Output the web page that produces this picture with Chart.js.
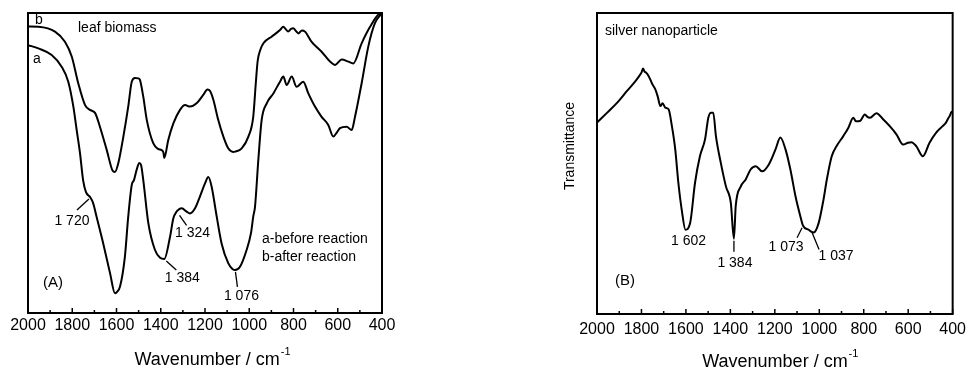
<!DOCTYPE html>
<html>
<head>
<meta charset="utf-8">
<script src="https://cdn.jsdelivr.net/npm/chart.js@4.4.1/dist/chart.umd.min.js"></script>
<style>
  html, body { margin: 0; padding: 0; background: #fff; }
  #wrap { position: relative; width: 972px; height: 370px; overflow: hidden; }
  canvas { position: absolute; top: 0; }
  #cA { left: 0; }
  #cB { left: 486px; }
</style>
</head>
<body>
<div id="wrap">
  <canvas id="cA" width="486" height="370"></canvas>
  <canvas id="cB" width="486" height="370"></canvas>
</div>
<script>
// ---- spectra (wavenumber in cm^-1, transmittance in arbitrary units) ----
// leaf biomass, b: after reaction
const leafAfterWn = [2000,1953,1878,1833,1802,1773,1742,1720,1697,1675,1644,1618,1607,1592,1569,1547,1531,1516,1501,1494,1479,1463,1434,1412,1396,1388,1384,1366,1343,1313,1290,1268,1238,1208,1189,1177,1162,1140,1117,1095,1073,1064,1034,1004,982,970,962,951,936,899,861,846,836,824,811,801,789,778,762,748,718,673,635,612,582,552,530,492,454,409,400];
const leafAfterT  = [95.5,95.4,93.8,90.4,85.4,76.6,69.3,67.7,66.7,62.1,54.3,47.5,47.0,49.9,58.8,68.8,77.1,78.3,78.2,77.7,72.1,64.3,56.6,54.7,54.3,53.5,51.7,57.7,63.2,67.7,69.3,68.8,69.9,72.7,74.5,74.0,71.0,64.3,58.8,54.9,53.7,53.8,54.9,58.8,65.4,77.0,84.0,87.5,89.9,92.1,94.3,95.4,94.7,93.8,94.7,94.9,94.0,93.2,94.2,93.8,90.4,87.1,83.8,82.7,84.5,83.8,83.2,89.9,95.4,99.9,100];

// leaf biomass, a: before reaction
const leafBeforeWn = [2000,1953,1893,1848,1818,1795,1780,1765,1751,1738,1720,1706,1690,1660,1629,1607,1598,1584,1562,1547,1531,1521,1509,1497,1489,1479,1456,1426,1403,1384,1358,1343,1328,1324,1305,1283,1268,1245,1223,1200,1185,1170,1147,1125,1095,1076,1064,1042,1012,992,982,974,959,944,921,891,861,846,831,808,786,756,733,703,673,643,620,603,590,560,537,522,492,462,432,400];
const leafBeforeT  = [89.3,88.2,86.0,82.1,77.1,68.8,61.0,53.3,44.3,40.3,38.7,36.7,32.1,23.2,13.2,6.6,7.0,8.8,18.8,32.1,42.7,44.3,47.7,50.0,49.3,44.3,29.9,21.0,18.4,18.0,25.4,31.6,33.8,34.2,34.9,33.8,33.2,34.9,38.8,43.2,45.3,42.1,32.1,23.2,16.6,14.7,14.3,15.4,21.0,26.7,32.1,35.4,51.0,64.3,69.9,73.2,77.1,78.8,76.0,78.8,75.4,77.1,73.2,68.8,65.4,62.7,58.8,60.3,61.6,62.1,61.0,65.4,76.6,88.8,96.6,100];

// silver nanoparticle
const silverWn = [2000,1954,1909,1865,1827,1808,1800,1793,1786,1781,1768,1752,1738,1727,1715,1705,1693,1678,1663,1648,1634,1619,1602,1581,1559,1537,1514,1499,1487,1477,1465,1443,1420,1398,1384,1376,1353,1331,1309,1286,1257,1227,1197,1175,1152,1130,1107,1085,1073,1048,1037,1025,1003,981,966,944,922,892,869,847,835,817,795,784,772,743,713,683,653,623,601,586,564,534,504,475,445,430,422,412,407,400];
const silverT  = [63.6,66.9,70.2,74.1,77.4,79.3,80.2,81.6,80.5,80.3,79.1,76.5,74.7,72.3,69.1,70.0,68.6,68.0,62.4,54.7,43.6,34.7,28.0,30.2,43.6,52.4,58.0,65.3,66.9,66.9,59.1,50.2,42.4,36.9,25.0,35.8,42.4,44.7,48.0,49.1,47.4,49.7,54.7,58.6,54.7,48.0,39.1,32.4,29.3,28.0,27.4,27.1,30.2,38.0,44.7,52.4,55.8,59.1,61.9,65.2,64.0,64.1,66.3,65.5,65.2,66.7,64.7,62.4,59.7,56.3,56.9,57.1,55.8,52.4,56.9,60.2,62.4,63.6,64.7,66.0,66.9,67.3];

// axis ticks
const tickLabels = [2000,1800,1600,1400,1200,1000,800,600,400];
const minorTicks = [1900,1700,1500,1300,1100,900,700,500];

// marked bands
const peaksA     = [1720, 1384, 1324, 1076];
const peaksAText = ['1 720', '1 384', '1 324', '1 076'];
const peaksB     = [1602, 1384, 1073, 1037];
const peaksBText = ['1 602', '1 384', '1 073', '1 037'];

// ---- drawing helpers ----
const FONT = '"Liberation Sans", Arial, Helvetica, sans-serif';

function pts(wn, t) { return wn.map((w, i) => ({ x: w, y: t[i] })); }
function at(wn, t, w) { return t[wn.indexOf(w)]; }

function label(ctx, s, x, y, size, align) {
  ctx.font = size + 'px ' + FONT;
  ctx.textAlign = align || 'left';
  ctx.textBaseline = 'middle';
  ctx.fillStyle = '#000';
  ctx.fillText(s, x, y);
}
function seg(ctx, x1, y1, x2, y2, w) {
  ctx.lineWidth = w || 1.3;
  ctx.strokeStyle = '#000';
  ctx.beginPath(); ctx.moveTo(x1, y1); ctx.lineTo(x2, y2); ctx.stroke();
}
function xTitle(ctx, cx, baseY) {
  const main = 'Wavenumber / cm', sup = '-1';
  ctx.font = '18px ' + FONT;
  const w1 = ctx.measureText(main).width;
  ctx.font = '11px ' + FONT;
  const w2 = ctx.measureText(sup).width;
  const x0 = cx - (w1 + w2) / 2;
  ctx.fillStyle = '#000';
  ctx.textAlign = 'left';
  ctx.textBaseline = 'alphabetic';
  ctx.font = '18px ' + FONT;
  ctx.fillText(main, x0, baseY);
  ctx.font = '11px ' + FONT;
  ctx.fillText(sup, x0 + w1 + 1, baseY - 10);
}

// frame, inward ticks and in-plot text for one panel
function decorPlugin(draw) {
  return {
    id: 'decor',
    afterDraw(chart) {
      const { ctx, chartArea: a, scales } = chart;
      const sx = scales.x, sy = scales.y;
      ctx.save();
      ctx.strokeStyle = '#000';
      ctx.lineWidth = 2;
      ctx.strokeRect(a.left, a.top, a.right - a.left, a.bottom - a.top);
      tickLabels.forEach(v => { const p = sx.getPixelForValue(v); seg(ctx, p, a.bottom, p, a.bottom - 5, 1.5); });
      minorTicks.forEach(v => { const p = sx.getPixelForValue(v); seg(ctx, p, a.bottom, p, a.bottom - 3, 1.5); });
      draw(ctx, a, sx, sy);
      ctx.restore();
    }
  };
}

function makeChart(id, datasets, padding, axisHeight, tickPad, draw) {
  return new Chart(document.getElementById(id), {
    type: 'line',
    data: { datasets },
    options: {
      responsive: false,
      animation: false,
      devicePixelRatio: 1,
      layout: { padding },
      elements: {
        point: { radius: 0 },
        line: { borderWidth: 2, borderColor: '#000', tension: 0.25, cubicInterpolationMode: 'monotone' }
      },
      plugins: { legend: { display: false }, tooltip: { enabled: false } },
      scales: {
        x: {
          type: 'linear', reverse: true, min: 400, max: 2000,
          afterBuildTicks: s => { s.ticks = tickLabels.map(v => ({ value: v })); },
          afterFit: s => { s.height = axisHeight; },
          ticks: { color: '#000', font: { family: FONT, size: 16 }, padding: tickPad, maxRotation: 0, autoSkip: false,
                   callback: v => String(v) },
          grid: { display: false, drawTicks: false },
          border: { display: false }
        },
        y: { display: false, min: 0, max: 100 }
      }
    },
    plugins: [decorPlugin(draw)]
  });
}

// (A) leaf biomass
makeChart('cA', [
  { data: pts(leafAfterWn, leafAfterT), borderColor: '#000' },
  { data: pts(leafBeforeWn, leafBeforeT), borderColor: '#000' }
], { left: 28, top: 13, right: 104, bottom: 0 }, 57, 3, (ctx, a, sx, sy) => {
  label(ctx, 'b', 35, 20, 14);
  label(ctx, 'a', 33, 59, 14);
  label(ctx, 'leaf biomass', 78, 28, 14);
  label(ctx, '(A)', 43, 283, 15);
  label(ctx, 'a-before reaction', 262, 239, 14);
  label(ctx, 'b-after reaction', 262, 257, 14);
  // leader offsets [x1, y1, x2, y2, textX, textY] from the band's point on curve a
  const off = [
    [-1, 2, -13, 13, -18, 24],
    [2, 2, 12, 11, 18, 19],
    [2, 5, 9, 15, 15, 23],
    [3, 3, 5, 18, 9, 27]
  ];
  peaksA.forEach((w, i) => {
    const px = sx.getPixelForValue(w), py = sy.getPixelForValue(at(leafBeforeWn, leafBeforeT, w));
    const o = off[i];
    seg(ctx, px + o[0], py + o[1], px + o[2], py + o[3]);
    label(ctx, peaksAText[i], px + o[4], py + o[5], 14, 'center');
  });
  xTitle(ctx, (a.left + a.right) / 2 + 7, 365);
});

// (B) silver nanoparticle
makeChart('cB', [
  { data: pts(silverWn, silverT), borderColor: '#000', tension: 0.15 }
], { left: 111, top: 13, right: 17, bottom: 0 }, 56, 6, (ctx, a, sx, sy) => {
  label(ctx, 'silver nanoparticle', 119, 31, 14);
  label(ctx, '(B)', 129, 281, 15);
  ctx.save();
  ctx.translate(84, 146);
  ctx.rotate(-Math.PI / 2);
  label(ctx, 'Transmittance', 0, 0, 14, 'center');
  ctx.restore();
  // leader offsets from the band's point on the curve (first band has text only)
  const off = [
    [0, 0, 0, 0, 3, 11],
    [0, 2, 0, 13, 1, 24],
    [-1, 2, -6, 12, -17, 21],
    [1, 1, 8, 18, 25, 25]
  ];
  peaksB.forEach((w, i) => {
    const px = sx.getPixelForValue(w), py = sy.getPixelForValue(at(silverWn, silverT, w));
    const o = off[i];
    if (i > 0) seg(ctx, px + o[0], py + o[1], px + o[2], py + o[3]);
    label(ctx, peaksBText[i], px + o[4], py + o[5], 14, 'center');
  });
  xTitle(ctx, (a.left + a.right) / 2 + 5, 367);
});
</script>
</body>
</html>
